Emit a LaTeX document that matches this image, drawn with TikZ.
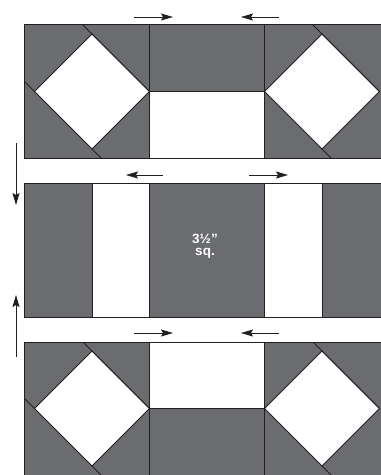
\documentclass[tikz,border=0pt]{standalone}
\usepackage{fontspec}
\setmainfont{Liberation Sans}
\usetikzlibrary{arrows.meta}
\definecolor{patch}{RGB}{107,108,112}
\definecolor{ink}{RGB}{35,31,32}
\newcommand\sqsqblock[6]{%
  \begin{scope}
    \clip (#1,#2) rectangle (#3,#4);
    \fill[patch] (#1,#2) rectangle (#3,#4);
    \filldraw[fill=white,seam] ({#5},{#6-57.5}) -- ({#5+57.5},{#6}) -- ({#5},{#6+57.5}) -- ({#5-57.5},{#6}) -- cycle;
    \draw[seam] ({#5+57.5},{#6}) -- ++(-90,-90);
    \draw[seam] ({#5-57.5},{#6}) -- ++(-30,-30);
    \draw[seam] ({#5},{#6+57.5}) -- ++(30,30);
  \end{scope}
  \draw[seam] (#1,#2) rectangle (#3,#4);}
\begin{document}
\begin{tikzpicture}[x=1pt,y=-1pt,
  seam/.style={draw=ink,line width=0.9pt},
  darkpatch/.style={fill=patch,draw=ink,line width=0.9pt},
  lightpatch/.style={fill=white,draw=ink,line width=0.9pt},
  arr/.style={draw=ink,line width=0.8pt,-{Stealth[length=12pt,width=7pt,inset=2pt]}},
  sizelabel/.style={text=white,font=\bfseries\fontsize{13.5}{12.5}\selectfont,align=center,inner sep=0pt}]
\useasboundingbox (0,0) rectangle (381,475);
\clip (0,0) rectangle (381,475);
% top row
\sqsqblock{24}{24}{149}{158}{92}{91.5}
\draw[darkpatch] (149,24) rectangle (264,91);
\draw[lightpatch] (149,91) rectangle (264,158);
\sqsqblock{264}{24}{389}{158}{322}{91.5}
% middle row
\draw[darkpatch] (24,183) rectangle (92,317);
\draw[lightpatch] (92,183) rectangle (149,317);
\draw[darkpatch] (149,183) rectangle (264,317);
\draw[lightpatch] (264,183) rectangle (322,317);
\draw[darkpatch] (322,183) rectangle (400,317);
\node[sizelabel] (size) at (205,246) {3½\char34\\sq.};
% bottom row
\sqsqblock{24}{342}{149}{476}{92}{408.5}
\draw[lightpatch] (149,342) rectangle (264,408);
\draw[darkpatch] (149,408) rectangle (264,476);
\sqsqblock{264}{342}{389}{476}{322}{408.5}
% arrows
\coordinate (t1s) at (134,17); \coordinate (t1e) at (173,17);
\coordinate (t2s) at (279,17); \coordinate (t2e) at (241,17);
\coordinate (m1s) at (163,175); \coordinate (m1e) at (126,175);
\coordinate (m2s) at (249,175); \coordinate (m2e) at (288,175);
\coordinate (b1s) at (134,333); \coordinate (b1e) at (173,333);
\coordinate (b2s) at (279,333); \coordinate (b2e) at (241,333);
\coordinate (v1s) at (16,143); \coordinate (v1e) at (16,205);
\coordinate (v2s) at (16,357); \coordinate (v2e) at (16,295);
\foreach \a in {t1,t2,m1,m2,b1,b2,v1,v2}
  \draw[arr] (\a s) -- (\a e);
\end{tikzpicture}
\end{document}
